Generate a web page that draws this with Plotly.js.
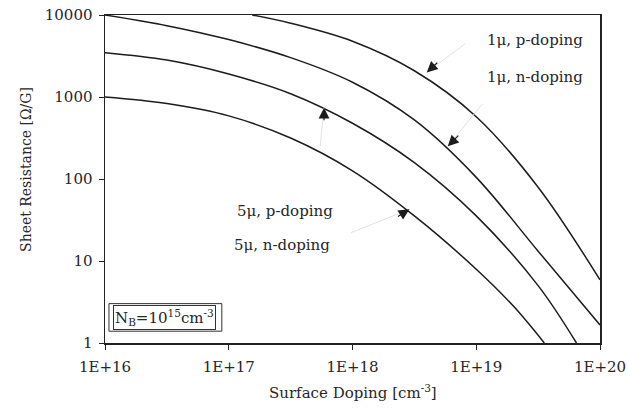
<!DOCTYPE html>
<html>
<head>
<meta charset="utf-8">
<script src="https://cdn.plot.ly/plotly-3.0.1.min.js"></script>
<style>
  html, body { margin: 0; padding: 0; background: #fff; }
  #chart { width: 628px; height: 408px; }
</style>
</head>
<body>
<div id="chart"></div>
<script>
// Sheet resistance vs. surface doping (log10 of doping in cm^-3, log10 of ohms/sq)
const doping1P = [17.19, 17.5, 18.0, 18.5, 19.0, 19.5, 20.0];
const rs1P     = [4.00, 3.90, 3.68, 3.32, 2.76, 1.90, 0.77];

const doping1N = [16.0, 16.5, 17.0, 17.5, 18.0, 18.5, 19.0, 19.5, 20.0];
const rs1N     = [4.00, 3.87, 3.70, 3.48, 3.18, 2.72, 2.02, 1.12, 0.22];

const doping5P = [16.0, 16.5, 17.0, 17.5, 18.0, 18.5, 19.0, 19.5, 19.81];
const rs5P     = [3.54, 3.45, 3.28, 3.04, 2.68, 2.20, 1.55, 0.70, 0.00];

const doping5N = [16.0, 16.5, 17.0, 17.5, 18.0, 18.5, 19.0, 19.3, 19.55];
const rs5N     = [3.00, 2.92, 2.77, 2.50, 2.10, 1.55, 0.90, 0.45, 0.00];

const xTickVals = [1e16, 1e17, 1e18, 1e19, 1e20];
const xTickText = ['1E+16', '1E+17', '1E+18', '1E+19', '1E+20'];
const yTickVals = [1, 10, 100, 1000, 10000];
const yTickText = ['1', '10', '100', '1000', '10000'];

const pow10 = a => a.map(v => Math.pow(10, v));

const FONT = 'DejaVu Serif, serif';
const INK = '#1c1c1c';
const TXT = '#262626';

function curve(xs, ys) {
  return {
    x: pow10(xs), y: pow10(ys),
    type: 'scatter', mode: 'lines',
    line: { color: INK, width: 1.5, shape: 'spline', smoothing: 1 },
    hoverinfo: 'skip', showlegend: false
  };
}

const data = [
  curve(doping1P, rs1P),
  curve(doping1N, rs1N),
  curve(doping5P, rs5P),
  curve(doping5N, rs5N)
];

// pointer arrows: faint leader + solid head
function pointer(x, y, ax, ay, lax, lay) {
  return [
    { x: x, y: y, xref: 'x', yref: 'y', text: '', showarrow: true,
      ax: lax, ay: lay, arrowhead: 0, arrowwidth: 1, arrowcolor: '#e2e2e2', standoff: 0 },
    { x: x, y: y, xref: 'x', yref: 'y', text: '', showarrow: true,
      ax: ax, ay: ay, arrowhead: 2, arrowsize: 1.8, arrowwidth: 1.2, arrowcolor: INK, standoff: 0 }
  ];
}

function label(text, x, y) {
  return { text: text, x: x, y: y, xref: 'paper', yref: 'paper',
    xanchor: 'left', yanchor: 'middle', showarrow: false,
    font: { family: FONT, size: 15, color: TXT } };
}

const annotations = [
  ...pointer(18.60, 3.30, 12, -11, 40, -30),
  ...pointer(18.77, 2.40, 12, -12, 36, -44),
  ...pointer(17.77, 2.87, 0, 14, -4, 40),
  ...pointer(18.46, 1.63, -13, 8, -60, 24),
  label('1μ, p-doping', 0.768, 0.924),
  label('1μ, n-doping', 0.768, 0.811),
  label('5μ, p-doping', 0.263, 0.402),
  label('5μ, n-doping', 0.257, 0.299),
  { text: 'N<sub>B</sub>=10<sup>15</sup>cm<sup>-3</sup>', x: 0.121, y: 0.078,
    xref: 'paper', yref: 'paper', xanchor: 'center', yanchor: 'middle', showarrow: false,
    font: { family: FONT, size: 15, color: TXT },
    bordercolor: '#333', borderwidth: 1, borderpad: 1, bgcolor: '#fff' },
  { text: 'Surface Doping [cm<sup>-3</sup>]', x: 0.5, y: -0.149,
    xref: 'paper', yref: 'paper', xanchor: 'center', yanchor: 'middle', showarrow: false,
    font: { family: FONT, size: 15, color: TXT } },
  { text: 'Sheet Resistance [Ω/G]', x: -0.16, y: 0.53, textangle: -90,
    xref: 'paper', yref: 'paper', xanchor: 'center', yanchor: 'middle', showarrow: false,
    font: { family: FONT, size: 14, color: TXT } }
];

const layout = {
  width: 628, height: 408,
  margin: { l: 105, r: 28, t: 15, b: 65 },
  paper_bgcolor: '#ffffff', plot_bgcolor: '#ffffff',
  font: { family: FONT, size: 15, color: TXT },
  xaxis: {
    type: 'log', range: [16, 20],
    tickvals: xTickVals, ticktext: xTickText,
    showgrid: false, zeroline: false,
    showline: true, mirror: true, linecolor: '#222', linewidth: 1.5,
    ticks: 'outside', ticklen: 5, tickcolor: '#222',
    ticklabelstandoff: 4,
    tickfont: { family: FONT, size: 15, color: TXT }
  },
  yaxis: {
    type: 'log', range: [0, 4],
    tickvals: yTickVals, ticktext: yTickText,
    showgrid: false, zeroline: false,
    showline: true, mirror: true, linecolor: '#222', linewidth: 1.5,
    ticks: 'outside', ticklen: 5, tickcolor: '#222',
    ticklabelstandoff: 3,
    tickfont: { family: FONT, size: 15, color: TXT }
  },
  annotations: annotations,
  shapes: [
    { type: 'rect', xref: 'paper', yref: 'paper', x0: 0.008, x1: 0.236, y0: 0.036, y1: 0.12,
      line: { color: '#333', width: 1 }, fillcolor: 'rgba(0,0,0,0)' }
  ],
  showlegend: false
};

Plotly.newPlot('chart', data, layout, { staticPlot: true, displayModeBar: false });
</script>
</body>
</html>
